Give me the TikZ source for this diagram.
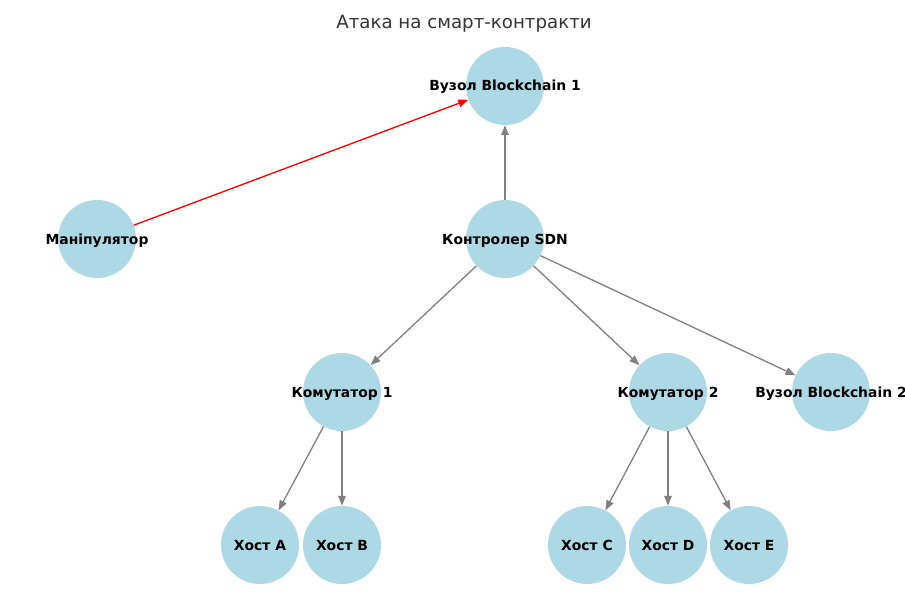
\documentclass[tikz,border=0pt]{standalone}
\usepackage{fontspec}
\setmainfont{DejaVu Sans}
\usetikzlibrary{arrows.meta}
\definecolor{nodeblue}{HTML}{ADD8E6}
\definecolor{edgegray}{HTML}{808080}
\tikzset{
  vnode/.style={circle, fill=nodeblue, draw=none, minimum size=78pt, inner sep=0pt},
  vlabel/.style={font=\fontsize{13.9}{16}\selectfont\bfseries, text=black, inner sep=0pt, anchor=base, yshift=-5pt},
  edge/.style={draw=edgegray, line width=1.3pt, -{Triangle[length=10pt,width=7.5pt]}},
  attack/.style={draw=red, line width=1.3pt, -{Triangle[length=10pt,width=7.5pt]}},
  titlestyle/.style={font=\fontsize{18.2}{22}\selectfont, text=black!80, anchor=base}
}
\begin{document}
\begin{tikzpicture}[x=1pt,y=-1pt]
\useasboundingbox (0,0) rectangle (905,596);
\node[titlestyle] (title) at (464,29) {Атака на смарт-контракти};
% circles
\node[vnode] (bc1) at (505,86) {};
\node[vnode] (man) at (97,239) {};
\node[vnode] (sdn) at (505,239) {};
\node[vnode] (k1) at (342,392) {};
\node[vnode] (k2) at (668,392) {};
\node[vnode] (bc2) at (831,392) {};
\node[vnode] (ha) at (260,545) {};
\node[vnode] (hb) at (342,545) {};
\node[vnode] (hc) at (587,545) {};
\node[vnode] (hd) at (668,545) {};
\node[vnode] (he) at (749,545) {};
% edges
\draw[attack] (man) -- (bc1);
\draw[edge] (sdn) -- (bc1);
\draw[edge] (sdn) -- (k1);
\draw[edge] (sdn) -- (k2);
\draw[edge] (sdn) -- (bc2);
\draw[edge] (k1) -- (ha);
\draw[edge] (k1) -- (hb);
\draw[edge] (k2) -- (hc);
\draw[edge] (k2) -- (hd);
\draw[edge] (k2) -- (he);
% labels
\node[vlabel] (tbc1) at (bc1) {Вузол Blockchain 1};
\node[vlabel] (tman) at (man) {Маніпулятор};
\node[vlabel] (tsdn) at (sdn) {Контролер SDN};
\node[vlabel] (tk1) at (k1) {Комутатор 1};
\node[vlabel] (tk2) at (k2) {Комутатор 2};
\node[vlabel] (tbc2) at (bc2) {Вузол Blockchain 2};
\node[vlabel] (tha) at (ha) {Хост A};
\node[vlabel] (thb) at (hb) {Хост B};
\node[vlabel] (thc) at (hc) {Хост C};
\node[vlabel] (thd) at (hd) {Хост D};
\node[vlabel] (the) at (he) {Хост E};
\end{tikzpicture}
\end{document}
